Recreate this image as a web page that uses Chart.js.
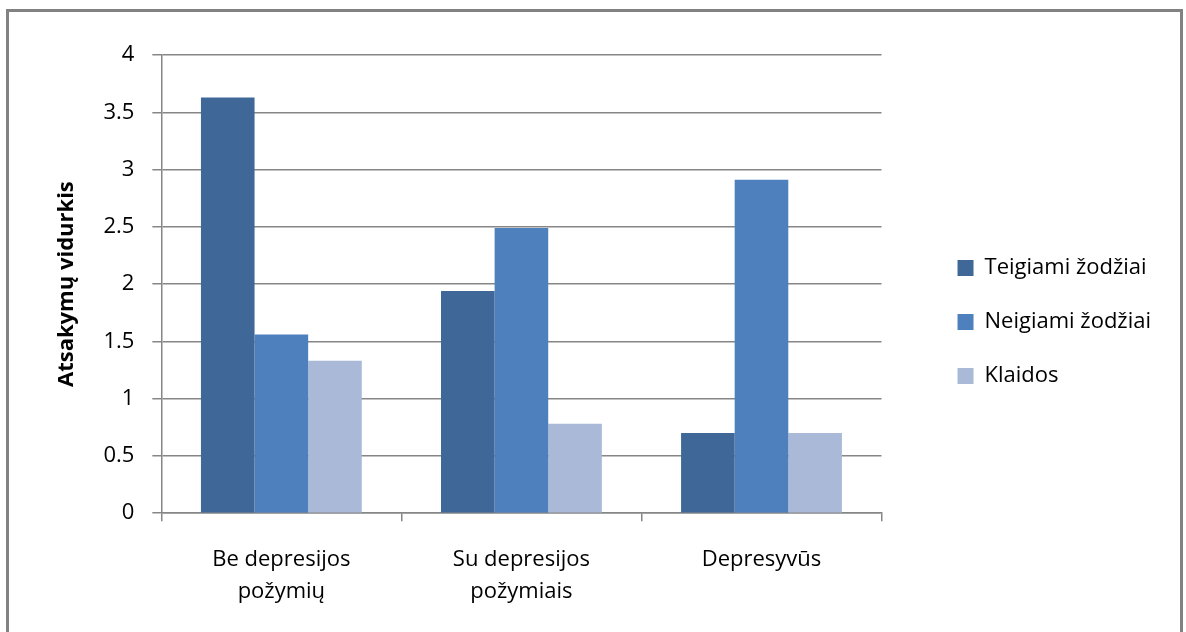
<!DOCTYPE html>
<html>
<head>
<meta charset="utf-8">
<script src="https://cdn.jsdelivr.net/npm/chart.js@4/dist/chart.umd.min.js"></script>
<style>
body { margin: 0; background: #fff; }
.frame { position: absolute; left: 6px; top: 9px; width: 1171px; height: 700px; border: 3px solid #828282; }
#chart { position: absolute; left: 0; top: 0; }
</style>
</head>
<body>
<div class="frame"></div>
<canvas id="chart" width="1186" height="632"></canvas>
<script>
// categories (multi-line labels as in the original)
const groups = [['Be depresijos', 'požymių'], ['Su depresijos', 'požymiais'], ['Depresyvūs']];
// series values
const teigiami = [3.63, 1.94, 0.70];
const neigiami = [1.56, 2.49, 2.91];
const klaidos = [1.33, 0.78, 0.70];
const seriesNames = ['Teigiami žodžiai', 'Neigiami žodžiai', 'Klaidos'];
const yTitle = 'Atsakymų vidurkis';

Chart.defaults.font.family = "'Open Sans'";
Chart.defaults.color = '#000';

const gridColor = '#868686';

const ctx = document.getElementById('chart').getContext('2d');
const myChart = new Chart(ctx, {
    type: 'bar',
    data: {
        labels: groups,
        datasets: [{
            label: seriesNames[0],
            data: teigiami,
            backgroundColor: '#3F6899'
        }, {
            label: seriesNames[1],
            data: neigiami,
            backgroundColor: '#4E80BD'
        }, {
            label: seriesNames[2],
            data: klaidos,
            backgroundColor: '#A9B9D7'
        }]
    },
    options: {
        responsive: false,
        animation: false,
        layout: {
            padding: { left: 54, top: 55, right: 25, bottom: 1 }
        },
        datasets: {
            bar: { categoryPercentage: 0.67, barPercentage: 1.0 }
        },
        plugins: {
            tooltip: { enabled: false },
            legend: {
                position: 'right',
                align: 'start',
                maxWidth: 400,
                title: {
                    display: true,
                    text: '',
                    font: { size: 10 },
                    padding: { top: 158, bottom: 0 }
                },
                labels: {
                    boxWidth: 16,
                    boxHeight: 16,
                    padding: 32,
                    font: { size: 22 }
                }
            }
        },
        scales: {
            x: {
                grid: {
                    display: true,
                    drawOnChartArea: false,
                    drawTicks: true,
                    tickLength: 8,
                    color: gridColor,
                    lineWidth: 1.5
                },
                border: { color: gridColor, width: 1.5 },
                ticks: {
                    padding: 23,
                    font: { size: 22, lineHeight: 1.45 },
                    maxRotation: 0
                }
            },
            y: {
                min: 0,
                max: 4,
                ticks: {
                    stepSize: 0.5,
                    padding: 18,
                    font: { size: 22 },
                    callback: v => String(v)
                },
                grid: {
                    color: gridColor,
                    lineWidth: 1.5,
                    tickLength: 9
                },
                border: { color: gridColor, width: 1.5 },
                title: {
                    display: true,
                    text: yTitle,
                    font: { size: 22, weight: 'bold' },
                    padding: { top: 0, bottom: 5 }
                }
            },
            // empty spacer between the plot and the legend
            gap: {
                type: 'linear',
                position: 'right',
                grid: { display: false },
                border: { display: false },
                ticks: { display: false },
                afterFit: s => { s.width = 44; }
            }
        }
    }
});
</script>
</body>
</html>
